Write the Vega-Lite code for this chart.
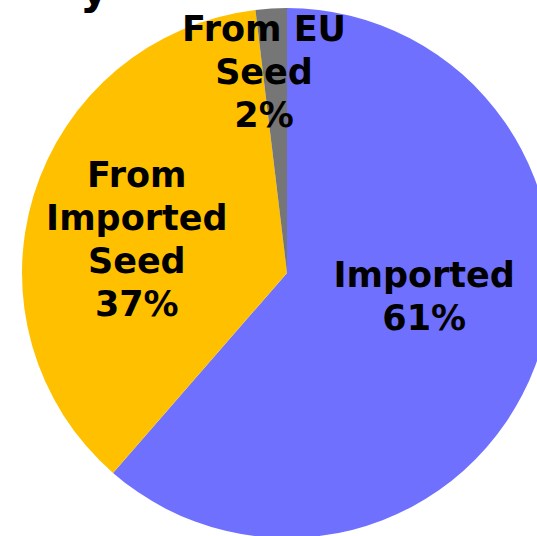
{
  "$schema": "https://vega.github.io/schema/vega-lite/v6.json",
  "autosize": {"type": "none"},
  "width": 574,
  "height": 546,
  "padding": {"left": 0, "top": 0, "right": -37, "bottom": -10},
  "background": "white",
  "title": {"text": "y", "anchor": "start", "dx": 80, "dy": 48, "offset": 0, "baseline": "alphabetic", "fontSize": 44, "font": "DejaVu Sans", "fontWeight": "bold", "color": "black"},
  "data": {"values": [
    {"category": "Imported", "order": 1, "value": 61.4, "label": "Imported\n61%"},
    {"category": "From Imported Seed", "order": 2, "value": 36.7, "label": "From\nImported\nSeed\n37%"},
    {"category": "From EU Seed", "order": 3, "value": 1.9, "label": "From EU\nSeed\n2%"}
  ]},
  "encoding": {
    "theta": {"field": "value", "type": "quantitative", "stack": true},
    "order": {"field": "order", "type": "quantitative"}
  },
  "layer": [
    {
      "mark": {"type": "arc", "outerRadius": 265, "stroke": null},
      "encoding": {
        "color": {"field": "category", "type": "nominal",
          "scale": {"domain": ["Imported", "From Imported Seed", "From EU Seed"], "range": ["#7070FF", "#FFC000", "#767676"]},
          "legend": null}
      }
    },
    {
      "mark": {"type": "text", "radius": 139, "dx": 7, "dy": -46, "lineBreak": "\n", "lineHeight": 43, "font": "DejaVu Sans", "fontWeight": "bold", "fontSize": 35, "align": "center", "baseline": "middle", "color": "black"},
      "encoding": {"text": {"condition": {"test": "datum.category === 'Imported'", "field": "label"}, "value": ""}}
    },
    {
      "mark": {"type": "text", "radius": 154, "dx": -3, "dy": -52, "lineBreak": "\n", "lineHeight": 43, "font": "DejaVu Sans", "fontWeight": "bold", "fontSize": 35, "align": "center", "baseline": "middle", "color": "black"},
      "encoding": {"text": {"condition": {"test": "datum.category === 'From Imported Seed'", "field": "label"}, "value": ""}}
    },
    {
      "mark": {"type": "text", "radius": 201, "dx": -11, "dy": -42, "lineBreak": "\n", "lineHeight": 43, "font": "DejaVu Sans", "fontWeight": "bold", "fontSize": 35, "align": "center", "baseline": "middle", "color": "black"},
      "encoding": {"text": {"condition": {"test": "datum.category === 'From EU Seed'", "field": "label"}, "value": ""}}
    }
  ],
  "config": {"view": {"stroke": null}}
}
